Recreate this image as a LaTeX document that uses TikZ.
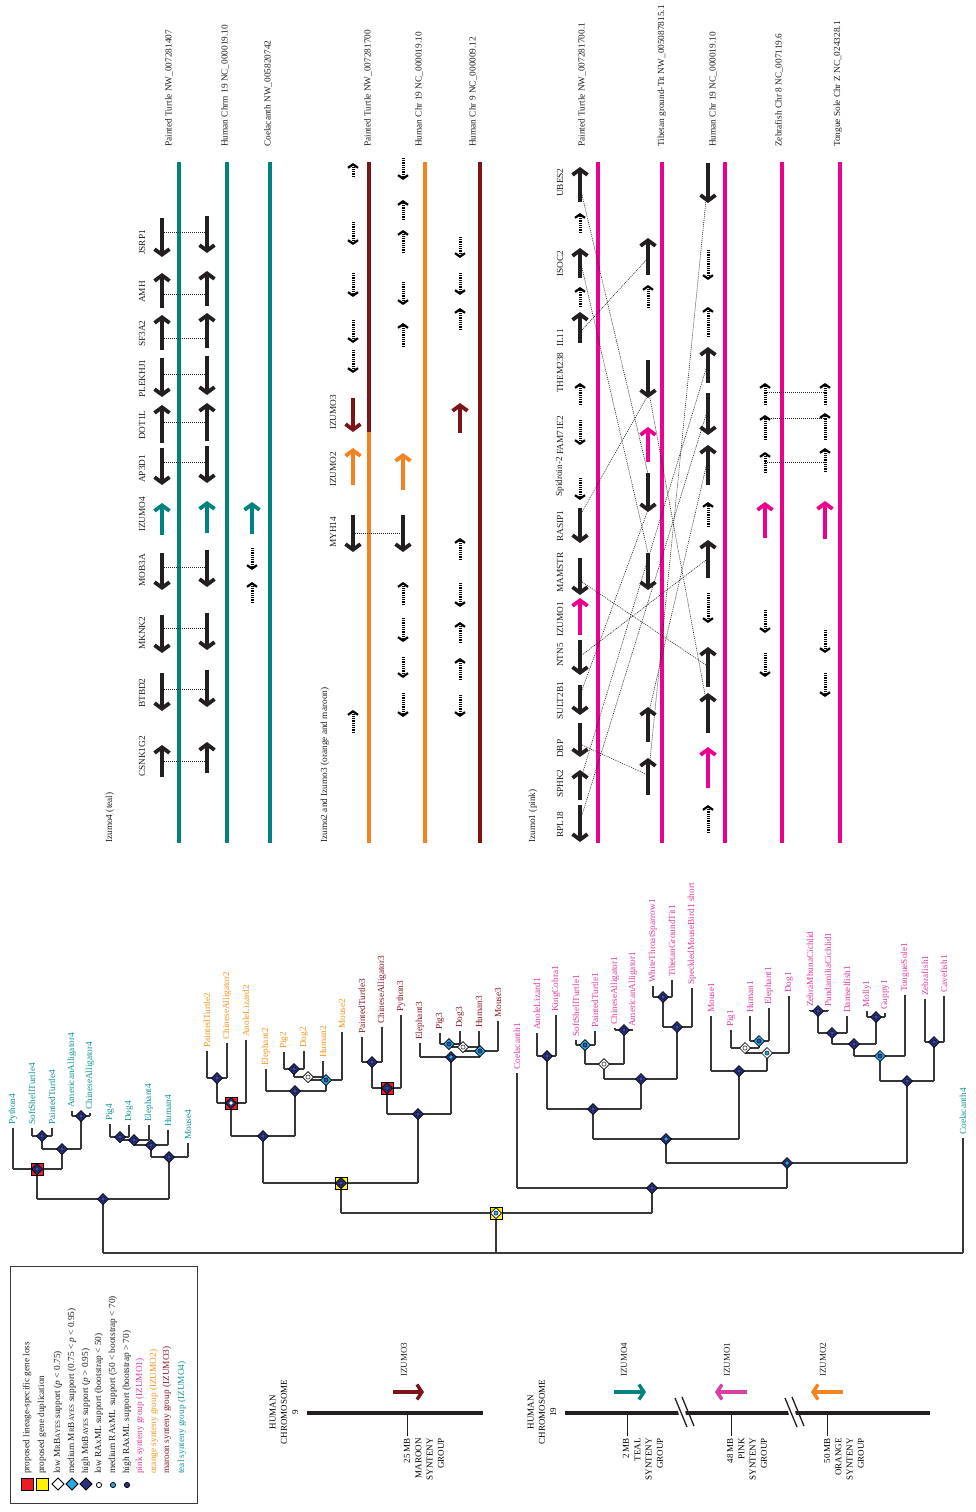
\documentclass[tikz,border=0pt]{standalone}
\usepackage{fontspec}
\setmainfont{Liberation Serif}
\usetikzlibrary{arrows.meta}
\definecolor{cInk}{RGB}{35,31,32}
\definecolor{cTree}{RGB}{55,55,55}
\definecolor{cTeal}{RGB}{0,130,128}
\definecolor{cMaroon}{RGB}{125,20,24}
\definecolor{cOrange}{RGB}{245,130,32}
\definecolor{cPink}{RGB}{236,0,140}
\definecolor{cPinkB}{RGB}{214,64,160}
\definecolor{cNavy}{RGB}{43,49,128}
\definecolor{cDot}{RGB}{62,78,170}
\definecolor{cCyan}{RGB}{41,171,226}
\definecolor{cRed}{RGB}{237,28,36}
\definecolor{cYellow}{RGB}{255,242,0}
\definecolor{txTeal}{RGB}{20,150,150}
\definecolor{txOrange}{RGB}{247,148,29}
\definecolor{txMaroon}{RGB}{140,26,43}
\definecolor{txPink}{RGB}{226,60,160}
\newcommand\fs{\fontsize{9.3}{11}\selectfont}
\newcommand\fsb{\fontsize{9}{11.3}\selectfont}
\newcommand\mrb{M{\fontsize{7}{8}\selectfont R}B{\fontsize{7}{8}\selectfont AYES}}
% gene arrow (x, tail, tip), dotted gene arrow, dotted link
\newcommand\ga[4][cInk]{\draw[garrow,#1] (#2,#3) -- (#2,#4);}
\newcommand\da[3]{\draw[darrow] (#1,#2) -- (#1,#3);}
\newcommand\cn[3]{\draw[conn] (#1,#3) -- (#2,#3);}
% tree: leaf (x, ybar, ylabel, colour, text); bar (x, x1, x2, y, yparent)
\newcommand\lf[5]{\draw[tree] (#1,#2) -- (#1,#3+3); \node[lab,text=#4] at (#1,#3) {#5};}
\newcommand\br[5]{\draw[tree] (#2,#4) -- (#3,#4); \draw[tree] (#1,#4) -- (#1,#5);}
% markers
\newcommand\dmd[4]{\path[draw=black,line width=0.7pt,fill=#3] (#1-5.5,#2) -- (#1,#2-5.5) -- (#1+5.5,#2) -- (#1,#2+5.5) -- cycle;
  \path[draw=black,line width=0.45pt,fill=#4] (#1,#2) circle (2.1);}
\newcommand\sq[5]{\path[draw=black,line width=0.8pt,fill=#3] (#1-6,#2-6) rectangle (#1+6,#2+6);
  \dmd{#1}{#2}{#4}{#5}}
\begin{document}
\begin{tikzpicture}[x=1pt,y=-1pt,
  garrow/.style={line width=4.8pt,-{Straight Barb[length=5.5pt,width=15pt,line width=3.8pt]}},
  darrow/.style={line width=3pt,dash pattern=on 0.9pt off 0.9pt,-{Straight Barb[length=3.5pt,width=10pt,line width=2.2pt]}},
  conn/.style={line width=0.6pt,dash pattern=on 1pt off 1pt,draw=cInk},
  chr/.style={line width=4.2pt},
  tree/.style={line width=1.1pt,draw=cTree},
  lab/.style={rotate=90,anchor=west,inner sep=0pt,font=\fs,text=cInk},
  carrow/.style={line width=4pt,-{Straight Barb[length=5pt,width=15pt,line width=3.4pt]}}]
\useasboundingbox (0,0) rectangle (975,1512);
\fill[white] (0,0) rectangle (975,1512);

%% ---------------- Izumo4 synteny panel ----------------
\foreach \x in {179,227,270} {\draw[chr,cTeal] (\x,162) -- (\x,843);}
\node[lab] at (110,843) {Izumo4 (teal)};
\node[lab] at (169,147) {Painted Turtle NW\_007281407};
\node[lab] at (225,147) {Human Chrm 19 NC\_000019.10};
\node[lab] at (268,147) {Coelacanth NW\_005820742};
\foreach \t/\y in {JSRP1/255,AMH/303,SF3A2/347,PLEKHJ1/398,DOT1L/440,AP3D1/483,IZUMO4/532,MOB3A/587,MKNK2/650,BTBD2/708,CSNK1G2/777}
  {\node[lab] at (142,\y) {\t};}
\foreach \y in {232,294,338,374,422,462,567,628,689,761} {\cn{162}{207}{\y}}
\ga{162}{218}{257} \ga{207}{216}{253}
\ga{162}{308}{273} \ga{207}{306}{271}
\ga{162}{350}{315} \ga{207}{348}{313}
\ga{162}{358}{397} \ga{207}{356}{395}
\ga{162}{443}{405} \ga{207}{441}{403}
\ga{162}{448}{485} \ga{207}{446}{483}
\ga[cTeal]{162}{535}{503} \ga[cTeal]{207}{533}{501} \ga[cTeal]{252}{534}{502}
\ga{162}{553}{590} \ga{207}{550}{587}
\da{252}{548}{570} \da{252}{603}{582}
\ga{162}{615}{653} \ga{207}{613}{650}
\ga{162}{673}{711} \ga{207}{670}{707}
\ga{162}{777}{745} \ga{207}{773}{742}

%% ---------------- Izumo2 / Izumo3 synteny panel ----------------
\draw[chr,cMaroon] (369,162) -- (369,432);
\draw[chr,cOrange] (369,432) -- (369,843);
\draw[chr,cOrange] (425,162) -- (425,843);
\draw[chr,cMaroon] (480,162) -- (480,843);
\node[lab] at (325,843) {Izumo2 and Izumo3 (orange and maroon)};
\node[lab] at (368,147) {Painted Turtle NW\_007281700};
\node[lab] at (419,147) {Human Chr 19 NC\_000019.10};
\node[lab] at (473,147) {Human Chr 9 NC\_000009.12};
\node[lab] at (333,430) {IZUMO3};
\node[lab] at (333,487) {IZUMO2};
\node[lab] at (333,548) {MYH14};
\cn{353}{403}{533}
\da{353}{177}{163} \da{353}{222}{245} \da{353}{273}{297} \da{353}{320}{343} \da{353}{350}{373}
\ga[cMaroon]{353}{398}{432}
\ga[cOrange]{353}{485}{448}
\ga{353}{515}{552}
\da{353}{733}{710}
\da{403}{158}{180} \da{403}{220}{200} \da{403}{253}{230} \da{403}{282}{305} \da{403}{347}{323}
\ga[cOrange]{403}{490}{453}
\ga{403}{515}{552}
\da{403}{605}{582} \da{403}{618}{642} \da{403}{657}{678} \da{403}{693}{717}
\da{460}{237}{258} \da{460}{273}{295} \da{460}{330}{308}
\ga[cMaroon]{460}{433}{403}
\da{460}{560}{538} \da{460}{583}{607} \da{460}{643}{622} \da{460}{680}{658} \da{460}{695}{717}

%% ---------------- Izumo1 synteny panel ----------------
\foreach \x in {598,662,725,782,840} {\draw[chr,cPink] (\x,162) -- (\x,843);}
\node[lab] at (533,843) {Izumo1 (pink)};
\node[lab] at (582,147) {Painted Turtle NW\_007281700.1};
\node[lab] at (662,147) {Tibetan ground-Tit NW\_005087815.1};
\node[lab] at (713,147) {Human Chr 19 NC\_000019.10};
\node[lab] at (779,147) {Zebrafish Chr 8 NC\_007119.6};
\node[lab] at (838,147) {Tongue Sole Chr Z NC\_024328.1};
\foreach \t/\y in {UBES2/197,ISOC2/277,IL11/347,THEM238/393,FAM71E2/455,Spidroin-2/497,RASIP1/542,MAMSTR/593,IZUMO1/637,NTN5/667,SULT2B1/720,DBP/758,SPHK2/798,RPL18/838}
  {\node[lab] at (560,\y) {\t};}
% links between loci
\draw[conn] (582,195) -- (648,474);
\draw[conn] (582,268) -- (648,553);
\draw[conn] (582,330) -- (648,258);
\draw[conn] (582,512) -- (648,395);
\draw[conn] (650,398) -- (706,700);
\draw[conn] (706,200) -- (650,760);
\draw[conn] (706,369) -- (582,775);
\draw[conn] (706,415) -- (582,815);
\draw[conn] (706,467) -- (648,716);
\draw[conn] (706,560) -- (582,655);
\draw[conn] (582,582) -- (706,665);
\draw[conn] (582,745) -- (648,775);
\draw[conn] (582,690) -- (648,510);
\foreach \y in {392,418,462} {\cn{765}{825}{\y}}
% painted turtle
\ga{580}{202}{167} \da{580}{233}{213} \ga{580}{278}{248} \da{580}{307}{287}
\ga{580}{343}{312} \da{580}{405}{383} \da{580}{420}{445} \da{580}{478}{500}
\ga{580}{508}{543} \ga{580}{558}{595} \ga[cPink]{580}{635}{598}
\ga{580}{640}{675} \ga{580}{685}{715} \ga{580}{723}{757} \ga{580}{800}{770} \ga{580}{805}{842}
% tibetan ground-tit
\ga{648}{275}{238} \da{648}{308}{285} \ga{648}{360}{398} \ga[cPink]{648}{462}{427}
\ga{648}{473}{512} \ga{648}{553}{590} \ga{648}{742}{707} \ga{648}{795}{758}
% human chr 19
\ga{708}{163}{203} \da{708}{250}{280} \da{708}{337}{307} \ga{708}{383}{347}
\ga{708}{393}{435} \ga{708}{485}{445} \da{708}{527}{502} \ga{708}{578}{540}
\da{708}{593}{623} \ga{708}{687}{647} \ga{708}{733}{693} \ga[cPink]{708}{788}{747}
\da{708}{833}{805}
% zebrafish and tongue sole
\da{765}{405}{383} \da{765}{440}{415} \da{765}{473}{452} \ga[cPink]{765}{538}{502}
\da{765}{610}{633} \da{765}{653}{677}
\da{825}{405}{383} \da{825}{440}{413} \da{825}{472}{448} \ga[cPink]{825}{539}{501}
\da{825}{630}{653} \da{825}{673}{697}

%% ---------------- gene tree ----------------
\draw[tree] (103,1253) -- (963,1253);
\draw[tree] (103,1253) -- (103,1199);
\draw[tree] (496,1253) -- (496,1213);
\lf{963}{1253}{1135}{txTeal}{Coelacanth4}
% teal clade
\br{103}{37}{169}{1199}{1253}
\br{37}{13}{62}{1169}{1199}
\lf{13}{1169}{1125}{txTeal}{Python4}
\br{62}{42}{81}{1149}{1169}
\br{42}{32}{52}{1136}{1149}
\lf{32}{1136}{1125}{txTeal}{SoftShellTurtle4}
\lf{52}{1136}{1125}{txTeal}{PaintedTurtle4}
\br{81}{72}{90}{1116}{1149}
\lf{72}{1116}{1108}{txTeal}{AmericanAlligator4}
\lf{90}{1116}{1110}{txTeal}{ChineseAlligator4}
\br{169}{151}{188}{1157}{1199}
\lf{188}{1157}{1140}{txTeal}{Mouse4}
\br{151}{134}{168}{1145}{1157}
\lf{168}{1145}{1127}{txTeal}{Human4}
\br{134}{120}{149}{1140}{1145}
\lf{149}{1140}{1122}{txTeal}{Elephant4}
\br{120}{110}{129}{1137}{1140}
\lf{110}{1137}{1121}{txTeal}{Pig4}
\lf{129}{1137}{1122}{txTeal}{Dog4}
% orange and maroon clades
\br{496}{341}{652}{1213}{1253}
\br{341}{263}{418}{1183}{1213}
\br{263}{231}{295}{1136}{1183}
\br{231}{217}{246}{1103}{1136}
\br{217}{207}{227}{1078}{1103}
\lf{207}{1078}{1048}{txOrange}{PaintedTurtle2}
\lf{227}{1078}{1040}{txOrange}{ChineseAlligator2}
\lf{246}{1103}{1037}{txOrange}{AnoleLizard2}
\br{295}{266}{326}{1091}{1136}
\lf{266}{1091}{1066}{txOrange}{Elephant2}
\br{326}{308}{342}{1080}{1091}
\lf{342}{1080}{1029}{txOrange}{Mouse2}
\br{308}{294}{323}{1077}{1080}
\lf{323}{1077}{1058}{txOrange}{Human2}
\br{294}{284}{304}{1069}{1077}
\lf{284}{1069}{1049}{txOrange}{Pig2}
\lf{304}{1069}{1048}{txOrange}{Dog2}
\br{418}{387}{451}{1114}{1183}
\br{387}{372}{401}{1088}{1114}
\lf{401}{1088}{1012}{txMaroon}{Python3}
\br{372}{362}{382}{1062}{1088}
\lf{362}{1062}{1034}{txMaroon}{PaintedTurtle3}
\lf{382}{1062}{1024}{txMaroon}{ChineseAlligator3}
\br{451}{420}{480}{1057}{1114}
\lf{420}{1057}{1040}{txMaroon}{Elephant3}
\br{480}{463}{498}{1051}{1057}
\lf{498}{1051}{1018}{txMaroon}{Mouse3}
\br{463}{449}{479}{1047}{1051}
\lf{479}{1047}{1028}{txMaroon}{Human3}
\br{449}{440}{460}{1044}{1047}
\lf{440}{1044}{1030}{txMaroon}{Pig3}
\lf{460}{1044}{1028}{txMaroon}{Dog3}
% pink clade
\br{652}{517}{787}{1188}{1213}
\lf{517}{1188}{1070}{txPink}{Coelacanth1}
\br{787}{666}{907}{1163}{1188}
\br{666}{593}{739}{1139}{1163}
\br{593}{547}{641}{1109}{1139}
\br{547}{537}{556}{1056}{1109}
\lf{537}{1056}{1030}{txPink}{AnoleLizard1}
\lf{556}{1056}{1012}{txPink}{KingCobra1}
\br{641}{604}{677}{1079}{1109}
\br{604}{585}{624}{1064}{1079}
\br{585}{576}{595}{1045}{1064}
\lf{576}{1045}{1037}{txPink}{SoftShellTurtle1}
\lf{595}{1045}{1028}{txPink}{PaintedTurtle1}
\br{624}{615}{633}{1030}{1064}
\lf{615}{1030}{1025}{txPink}{ChineseAlligator1}
\lf{633}{1030}{1027}{txPink}{AmericanAlligator1}
\br{677}{663}{692}{1027}{1079}
\lf{692}{1027}{985}{txPink}{SpeckledMouseBird1 short}
\br{663}{653}{672}{997}{1027}
\lf{653}{997}{983}{txPink}{WhiteThroatSparrow1}
\lf{672}{997}{977}{txPink}{TibetanGroundTit1}
\br{739}{711}{767}{1071}{1139}
\lf{711}{1071}{1013}{txPink}{Mouse1}
\br{767}{745}{789}{1053}{1071}
\lf{789}{1053}{993}{txPink}{Dog1}
\br{745}{731}{759}{1048}{1053}
\lf{731}{1048}{1027}{txPink}{Pig1}
\br{759}{750}{769}{1041}{1048}
\lf{750}{1041}{1013}{txPink}{Human1}
\lf{769}{1041}{1005}{txPink}{Elephant1}
\br{907}{880}{934}{1081}{1163}
\br{880}{854}{905}{1056}{1081}
\lf{905}{1056}{992}{txPink}{TongueSole1}
\br{854}{832}{876}{1044}{1056}
\br{832}{818}{847}{1033}{1044}
\lf{847}{1033}{1013}{txPink}{Damselfish1}
\br{818}{810}{828}{1011}{1033}
\lf{810}{1011}{1007}{txPink}{ZebraMbunaCichlid}
\lf{828}{1011}{1007}{txPink}{PundamiliaCichlid1}
\br{876}{867}{885}{1017}{1044}
\lf{867}{1017}{1008}{txPink}{Molly1}
\lf{885}{1017}{1010}{txPink}{Guppy1}
\br{934}{925}{944}{1042}{1081}
\lf{925}{1042}{996}{txPink}{Zebrafish1}
\lf{944}{1042}{993}{txPink}{Cavefish1}
% node support markers
\dmd{103}{1199}{cNavy}{cDot}
\sq{37}{1169}{cRed}{cNavy}{cDot}
\dmd{62}{1149}{cNavy}{cDot}
\dmd{42}{1136}{cNavy}{cDot}
\dmd{81}{1116}{cNavy}{cDot}
\dmd{169}{1157}{cNavy}{cDot}
\dmd{151}{1145}{cNavy}{cDot}
\dmd{134}{1140}{cNavy}{cDot}
\dmd{120}{1137}{cNavy}{cDot}
\sq{496}{1213}{cYellow}{white}{cCyan}
\sq{341}{1183}{cYellow}{cNavy}{cDot}
\dmd{263}{1136}{cNavy}{cDot}
\sq{231}{1103}{cRed}{cNavy}{white}
\dmd{217}{1078}{cNavy}{cDot}
\dmd{295}{1091}{cNavy}{cDot}
\dmd{326}{1080}{cCyan}{cDot}
\dmd{308}{1077}{white}{white}
\dmd{294}{1069}{cNavy}{cDot}
\dmd{418}{1114}{cNavy}{cDot}
\sq{387}{1088}{cRed}{cNavy}{cDot}
\dmd{372}{1062}{cNavy}{cDot}
\dmd{451}{1057}{cNavy}{cCyan}
\dmd{480}{1051}{cCyan}{cDot}
\dmd{463}{1047}{white}{white}
\dmd{449}{1044}{cCyan}{cDot}
\dmd{652}{1188}{cNavy}{cDot}
\dmd{787}{1163}{cNavy}{cCyan}
\dmd{666}{1139}{cNavy}{cCyan}
\dmd{593}{1109}{cNavy}{cDot}
\dmd{547}{1056}{cNavy}{cDot}
\dmd{641}{1079}{cNavy}{cDot}
\dmd{604}{1064}{white}{white}
\dmd{585}{1045}{cCyan}{cDot}
\dmd{624}{1030}{cNavy}{cDot}
\dmd{677}{1027}{cNavy}{cDot}
\dmd{663}{997}{cNavy}{cDot}
\dmd{739}{1071}{cNavy}{cDot}
\dmd{767}{1053}{white}{cCyan}
\dmd{745}{1048}{white}{white}
\dmd{759}{1041}{cCyan}{cDot}
\dmd{907}{1081}{cNavy}{cDot}
\dmd{880}{1056}{cCyan}{cDot}
\dmd{854}{1044}{cNavy}{cDot}
\dmd{832}{1033}{cNavy}{cDot}
\dmd{818}{1011}{cNavy}{cDot}
\dmd{876}{1017}{cNavy}{cDot}
\dmd{934}{1042}{cNavy}{cDot}

%% ---------------- legend ----------------
\draw[line width=0.9pt,draw=cTree] (10,1266) rectangle (197,1503);
\path[draw=black,line width=0.8pt,fill=cRed] (21,1478) rectangle (33,1490);
\path[draw=black,line width=0.8pt,fill=cYellow] (36,1478) rectangle (48,1490);
\foreach \x/\c in {58/white,72/cCyan,86/cNavy}
  {\path[draw=black,line width=0.8pt,fill=\c] (\x-6,1484) -- (\x,1478) -- (\x+6,1484) -- (\x,1490) -- cycle;}
\foreach \x/\c in {99/white,113/cCyan,127/cNavy}
  {\path[draw=black,line width=0.8pt,fill=\c] (\x,1485) circle (2.6);}
\node[lab] at (27,1474) {proposed lineage-specific gene loss};
\node[lab] at (42,1474) {proposed gene duplication};
\node[lab] at (58,1474) {low \mrb{} support (\textit{p} < 0.75)};
\node[lab] at (72,1474) {medium \mrb{} support (0.75 < \textit{p} < 0.95)};
\node[lab] at (86,1474) {high \mrb{} support (\textit{p} > 0.95)};
\node[lab] at (99,1474) {low RAxML support (bootstrap < 50)};
\node[lab] at (113,1474) {medium RAxML\, support (50 < bootstrap < 70)};
\node[lab] at (127,1474) {high RAxML support (bootstrap > 70)};
\node[lab,text=txPink] at (140,1474) {pink synteny group (IZUMO1)};
\node[lab,text=txOrange] at (154,1474) {orange synteny group (IZUMO2)};
\node[lab,text=txMaroon] at (167,1474) {maroon synteny group (IZUMO3)};
\node[lab,text=txTeal] at (182,1474) {teal synteny group (IZUMO4)};

%% ---------------- human chromosome maps ----------------
\node[rotate=90,align=center,inner sep=0pt,font=\fsb] at (284,1412) {HUMAN\\CHROMOSOME\\9};
\draw[chr,line width=4.6pt,cInk] (307,1413) -- (483,1413);
\draw[line width=1pt,cInk] (407,1413) -- (407,1436);
\node[rotate=90,anchor=east,align=right,inner sep=0pt,font=\fsb] at (424,1438) {25 MB\\MAROON\\SYNTENY\\GROUP};
\node[lab,font=\fsb] at (404,1377) {IZUMO3};
\draw[carrow,cMaroon] (393,1392) -- (424,1392);

\node[rotate=90,align=center,inner sep=0pt,font=\fsb] at (542,1412) {HUMAN\\CHROMOSOME\\19};
\draw[chr,line width=4.6pt,cInk] (565,1413) -- (930,1413);
% breaks in the chromosome
\foreach \x in {675,785} {
  \fill[white] (\x+2,1405) -- (\x+9,1405) -- (\x+12,1421) -- (\x+5,1421) -- cycle;
  \draw[line width=1.3pt,cInk] (\x,1398) -- (\x+12,1427);
  \draw[line width=1.3pt,cInk] (\x+7,1397) -- (\x+19,1426);
}
\draw[line width=1pt,cInk] (627,1413) -- (627,1436);
\draw[line width=1pt,cInk] (731,1413) -- (731,1436);
\draw[line width=1pt,cInk] (827,1413) -- (827,1436);
\node[rotate=90,anchor=east,align=right,inner sep=0pt,font=\fsb] at (643,1438) {2 MB\\TEAL\\SYNTENY\\GROUP};
\node[rotate=90,anchor=east,align=right,inner sep=0pt,font=\fsb] at (747,1438) {48 MB\\PINK\\SYNTENY\\GROUP};
\node[rotate=90,anchor=east,align=right,inner sep=0pt,font=\fsb] at (844,1438) {50 MB\\ORANGE\\SYNTENY\\GROUP};
\node[lab,font=\fsb] at (624,1377) {IZUMO4};
\node[lab,font=\fsb] at (727,1377) {IZUMO1};
\node[lab,font=\fsb] at (823,1377) {IZUMO2};
\draw[carrow,cTeal] (614,1392) -- (646,1392);
\draw[carrow,cPinkB] (747,1392) -- (715,1392);
\draw[carrow,cOrange] (843,1392) -- (811,1392);
\end{tikzpicture}
\end{document}
